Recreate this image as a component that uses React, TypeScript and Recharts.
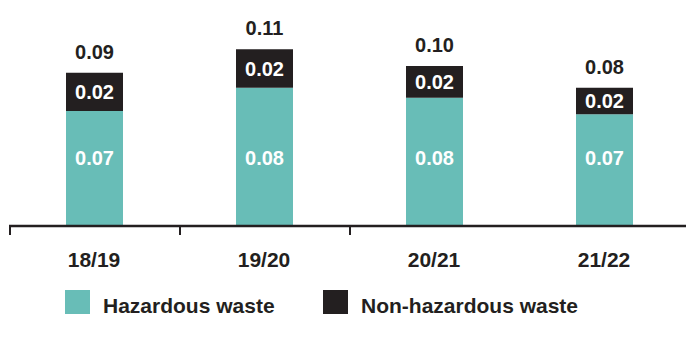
import React from 'react';
import { BarChart, Bar, XAxis, YAxis, LabelList } from 'recharts';

const years = ['18/19', '19/20', '20/21', '21/22'];
const hazardous = [0.069, 0.083, 0.077, 0.067];
const nonHazardous = [0.023, 0.023, 0.019, 0.016];

const TEAL = '#68BDB7';
const DARK = '#231F20';
const FONT = '"Liberation Sans", Arial, sans-serif';

const data = years.map((year, i) => ({
  year,
  hazardous: hazardous[i],
  nonHazardous: nonHazardous[i],
  total: hazardous[i] + nonHazardous[i],
}));

const fmt = (v: any) => Number(v).toFixed(2);

// category label plus a divider tick on the left edge of the first three bands
const YearTick = (props: any) => {
  const { x, y, payload, index } = props;
  const half = payload.offset ?? 0;
  return (
    <g>
      {index < 3 && (
        <line x1={x - half + 1} x2={x - half + 1} y1={y} y2={y + 9} stroke={DARK} strokeWidth={2} />
      )}
      <text
        x={x}
        y={y + 41}
        textAnchor="middle"
        fill={DARK}
        fontFamily={FONT}
        fontWeight="bold"
        fontSize={21}
      >
        {payload.value}
      </text>
    </g>
  );
};

const LegendItem = ({ color, label, left }: { color: string; label: string; left: number }) => (
  <div style={{ position: 'absolute', left, top: 290, display: 'flex', alignItems: 'center' }}>
    <div style={{ width: 25, height: 24, background: color }} />
    <span
      style={{
        marginLeft: 13,
        fontFamily: FONT,
        fontWeight: 'bold',
        fontSize: 21,
        color: DARK,
        lineHeight: '24px',
        position: 'relative',
        top: 4,
      }}
    >
      {label}
    </span>
  </div>
);

const App = () => {
  return (
    <div style={{ position: 'absolute', left: 0, top: 0, width: 686, height: 340, background: '#fff' }}>
      <BarChart
        width={686}
        height={340}
        data={data}
        margin={{ top: 26, right: -3, left: 9, bottom: 0 }}
      >
        <XAxis
          dataKey="year"
          height={114}
          axisLine={{ stroke: DARK, strokeWidth: 2.5 }}
          tickLine={false}
          tickSize={0}
          tickMargin={0}
          tick={<YearTick />}
          interval={0}
        />
        <YAxis hide domain={[0, 0.12]} />
        <Bar dataKey="hazardous" stackId="a" fill={TEAL} barSize={57} isAnimationActive={false}>
          <LabelList
            dataKey="hazardous"
            position="insideBottom"
            offset={61}
            formatter={fmt}
            fill="#fff"
            fontFamily={FONT}
            fontWeight="bold"
            fontSize={20}
          />
        </Bar>
        <Bar dataKey="nonHazardous" stackId="a" fill={DARK} barSize={57} isAnimationActive={false}>
          <LabelList
            dataKey="nonHazardous"
            position="center"
            formatter={fmt}
            fill="#fff"
            fontFamily={FONT}
            fontWeight="bold"
            fontSize={20}
          />
          <LabelList
            dataKey="total"
            position="top"
            offset={14}
            formatter={fmt}
            fill={DARK}
            fontFamily={FONT}
            fontWeight="bold"
            fontSize={20}
          />
        </Bar>
      </BarChart>
      <LegendItem color={TEAL} label="Hazardous waste" left={65} />
      <LegendItem color={DARK} label="Non-hazardous waste" left={323} />
    </div>
  );
};

export default App;
